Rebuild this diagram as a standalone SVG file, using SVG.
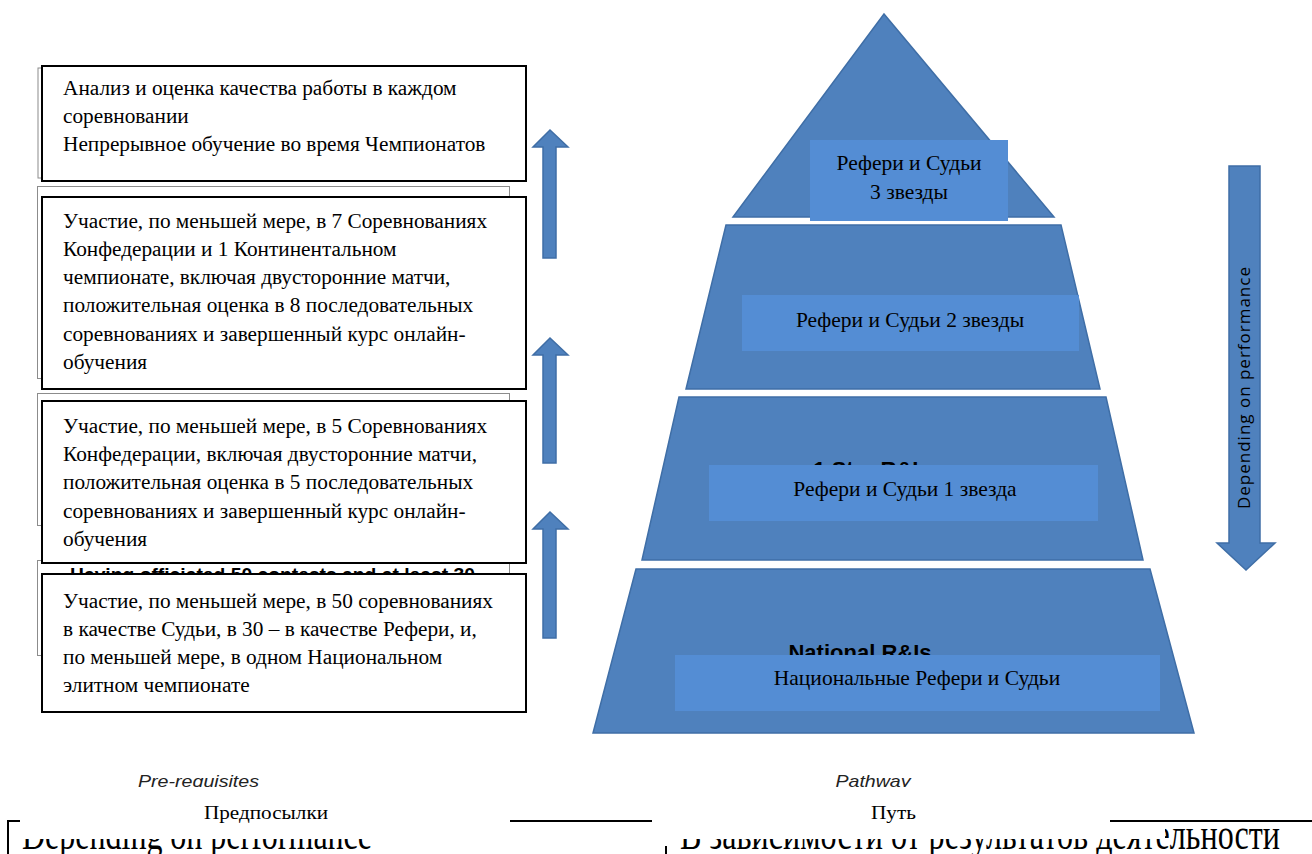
<svg xmlns="http://www.w3.org/2000/svg" width="1312" height="854" viewBox="0 0 1312 854">
<style>
.box{fill:#fff;stroke:#000;stroke-width:2}
.back{fill:#fff;stroke:#8c8c8c;stroke-width:1}
.t{font-family:"Liberation Serif","Times New Roman",serif;font-size:21.3px;fill:#000}
.tc{font-family:"Liberation Serif","Times New Roman",serif;font-size:21.5px;fill:#000;text-anchor:middle}
.tier{fill:#4f81bd;stroke:#3f6ea6;stroke-width:1.5}
.lab{fill:#548dd4}
.arr{fill:#4f81bd;stroke:#3f6ea6;stroke-width:1.5}
.en{font-family:"Liberation Sans",Arial,sans-serif;font-weight:bold;font-size:22px;fill:#000;text-anchor:middle}
.it{font-family:"Liberation Sans",Arial,sans-serif;font-style:italic;font-size:17px;fill:#222;text-anchor:middle}
.cap{font-family:"Liberation Serif","Times New Roman",serif;font-size:19px;fill:#000;text-anchor:middle}
.big{font-family:"Liberation Serif","Times New Roman",serif;font-size:44px;fill:#000}
</style>
<defs>
<clipPath id="cl4"><rect x="30" y="560" width="490" height="14"/></clipPath>
<clipPath id="clS"><rect x="600" y="300" width="600" height="165"/></clipPath>
<clipPath id="clN"><rect x="600" y="580" width="600" height="75"/></clipPath>
<clipPath id="clBot"><rect x="0" y="839" width="1165" height="20"/><rect x="1165" y="820" width="147" height="40"/></clipPath>
<clipPath id="clCap"><rect x="0" y="765" width="1312" height="22"/></clipPath>
</defs>
<rect width="1312" height="854" fill="#fff"/>

<g id="back-boxes">
<rect class="back" x="38" y="68" width="470" height="110"/>
<rect class="back" x="37.5" y="186.5" width="472" height="192"/>
<rect class="back" x="37.5" y="393.5" width="472" height="132"/>
<rect class="back" x="37.5" y="560.5" width="472" height="95"/>
<text clip-path="url(#cl4)" x="70" y="581" font-family="Liberation Sans,Arial,sans-serif" font-weight="bold" font-size="18" textLength="405" lengthAdjust="spacingAndGlyphs">Having officiated 50 contests and at least 30</text>
</g>

<g id="box1">
<rect class="box" x="42" y="66" width="484" height="115"/>
<text class="t" x="63" y="95">Анализ и оценка качества работы в каждом</text>
<text class="t" x="63" y="123">соревновании</text>
<text class="t" x="63" y="151">Непрерывное обучение во время Чемпионатов</text>
</g>
<g id="box2">
<rect class="box" x="42" y="197" width="484" height="192"/>
<text class="t" x="63" y="228">Участие, по меньшей мере, в 7 Соревнованиях</text>
<text class="t" x="63" y="256">Конфедерации и 1 Континентальном</text>
<text class="t" x="63" y="284">чемпионате, включая двусторонние матчи,</text>
<text class="t" x="63" y="312">положительная оценка в 8 последовательных</text>
<text class="t" x="63" y="341">соревнованиях и завершенный курс онлайн-</text>
<text class="t" x="63" y="369">обучения</text>
</g>
<g id="box3">
<rect class="box" x="42" y="401" width="484" height="162"/>
<text class="t" x="63" y="433">Участие, по меньшей мере, в 5 Соревнованиях</text>
<text class="t" x="63" y="461">Конфедерации, включая двусторонние матчи,</text>
<text class="t" x="63" y="489">положительная оценка в 5 последовательных</text>
<text class="t" x="63" y="518">соревнованиях и завершенный курс онлайн-</text>
<text class="t" x="63" y="546">обучения</text>
</g>
<g id="box4">
<rect class="box" x="42" y="574" width="484" height="138"/>
<text class="t" x="63" y="608">Участие, по меньшей мере, в 50 соревнованиях</text>
<text class="t" x="63" y="636">в качестве Судьи, в 30 – в качестве Рефери, и,</text>
<text class="t" x="63" y="664">по меньшей мере, в одном Национальном</text>
<text class="t" x="63" y="692">элитном чемпионате</text>
</g>

<g id="connectors">
<path class="arr" d="M543,258 V147 H533 L550,130 L568,147 H556 V258 Z"/>
<path class="arr" d="M543,463 V355 H533 L550,338 L568,355 H556 V463 Z"/>
<path class="arr" d="M543,638 V529 H533 L550,512 L568,529 H556 V638 Z"/>
<path class="arr" d="M1229,166 H1260 V543 H1275 L1246,570 L1217,543 H1229 Z"/>
<text transform="translate(1250,388) rotate(-90)" text-anchor="middle" font-family="Open Sans,Liberation Sans,sans-serif" font-size="17" fill="#000" textLength="242">Depending on performance</text>
</g>

<g id="tier3">
<path class="tier" d="M884,14 L1054,217 L733,217 Z"/>
<rect class="lab" x="810" y="140" width="198" height="81"/>
<text class="tc" x="909" y="170">Рефери и Судьи</text>
<text class="tc" x="909" y="199">3 звезды</text>
</g>
<g id="tier2">
<path class="tier" d="M726,225 L1061,225 L1100,389 L686,389 Z"/>
<rect class="lab" x="742" y="295" width="337" height="56"/>
<text class="tc" x="910" y="327">Рефери и Судьи 2 звезды</text>
</g>
<g id="tier1">
<path class="tier" d="M679,397 L1106,397 L1143,560 L642,560 Z"/>
<text class="en" clip-path="url(#clS)" x="872" y="477">1 Star R&amp;Is</text>
<rect class="lab" x="709" y="465" width="389" height="56"/>
<text class="tc" x="905" y="496">Рефери и Судьи 1 звезда</text>
</g>
<g id="tier0">
<path class="tier" d="M636,569 L1150,569 L1194,733 L593,733 Z"/>
<text class="en" clip-path="url(#clN)" x="860" y="660">National R&amp;Is</text>
<rect class="lab" x="675" y="655" width="485" height="56"/>
<text class="tc" x="917" y="685">Национальные Рефери и Судьи</text>
</g>

<g id="captions">
<text class="it" clip-path="url(#clCap)" x="198.5" y="787" textLength="121" lengthAdjust="spacingAndGlyphs">Pre-requisites</text>
<text class="it" clip-path="url(#clCap)" x="873" y="787" textLength="75" lengthAdjust="spacingAndGlyphs">Pathway</text>
<text class="cap" x="266" y="819" textLength="124" lengthAdjust="spacingAndGlyphs">Предпосылки</text>
<text class="cap" x="893.5" y="819" textLength="45" lengthAdjust="spacingAndGlyphs">Путь</text>
<path d="M20,821 H8 V854 M510,821 H652 M1110,821 H1312 M666,846 V854" stroke="#000" stroke-width="2" fill="none"/>
<g clip-path="url(#clBot)">
<text class="big" x="22" y="849" textLength="350" lengthAdjust="spacingAndGlyphs">Depending on performance</text>
<text class="big" x="680" y="849" textLength="600" lengthAdjust="spacingAndGlyphs">В зависимости от результатов деятельности</text>
</g>
</g>
</svg>
